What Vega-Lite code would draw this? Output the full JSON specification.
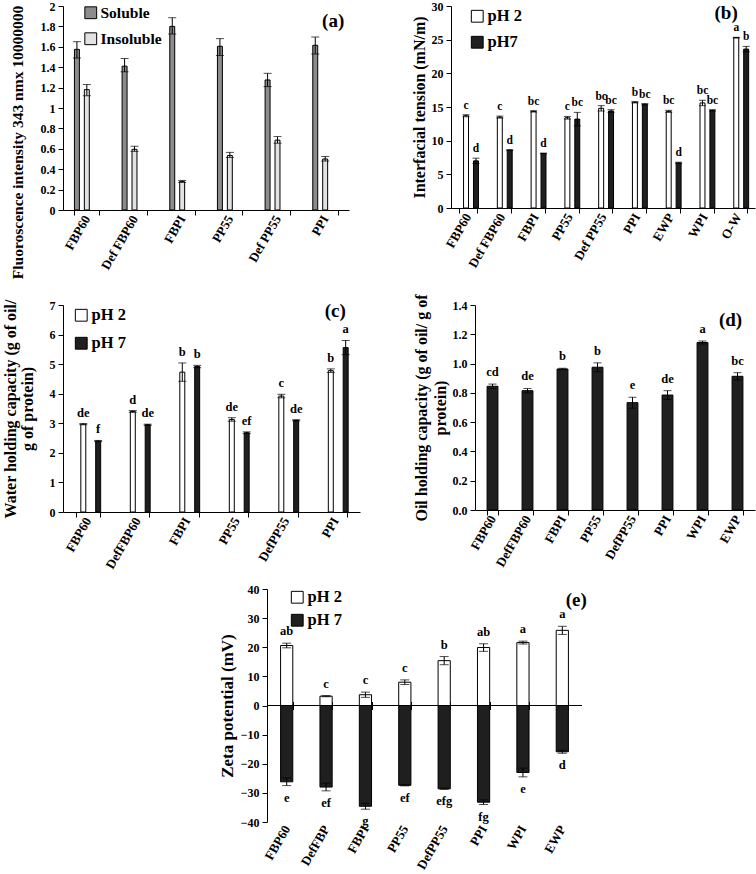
{
 "$schema": "https://vega.github.io/schema/vega-lite/v6.json",
 "padding": {"left": 2, "right": 2, "top": 0, "bottom": 0},
 "datasets": {
  "A": [
   {"c": "FBP60", "s": "Soluble", "v": 1.575, "lo": 1.49, "hi": 1.65},
   {"c": "FBP60", "s": "Insoluble", "v": 1.18, "lo": 1.12, "hi": 1.23},
   {"c": "Def FBP60", "s": "Soluble", "v": 1.41, "lo": 1.355, "hi": 1.485},
   {"c": "Def FBP60", "s": "Insoluble", "v": 0.595, "lo": 0.575, "hi": 0.625},
   {"c": "FBPI", "s": "Soluble", "v": 1.8, "lo": 1.725, "hi": 1.885},
   {"c": "FBPI", "s": "Insoluble", "v": 0.28, "lo": 0.27, "hi": 0.29},
   {"c": "PP55", "s": "Soluble", "v": 1.605, "lo": 1.515, "hi": 1.68},
   {"c": "PP55", "s": "Insoluble", "v": 0.535, "lo": 0.515, "hi": 0.565},
   {"c": "Def PP55", "s": "Soluble", "v": 1.275, "lo": 1.21, "hi": 1.34},
   {"c": "Def PP55", "s": "Insoluble", "v": 0.685, "lo": 0.655, "hi": 0.72},
   {"c": "PPI", "s": "Soluble", "v": 1.615, "lo": 1.53, "hi": 1.695},
   {"c": "PPI", "s": "Insoluble", "v": 0.5, "lo": 0.48, "hi": 0.525}
  ],
  "B": [
   {"c": "FBP60", "s": "pH 2", "v": 13.7, "lo": 13.55, "hi": 13.85, "l": "c"},
   {"c": "FBP60", "s": "pH7", "v": 7.0, "lo": 6.6, "hi": 7.4, "l": "d"},
   {"c": "Def FBP60", "s": "pH 2", "v": 13.5, "lo": 13.35, "hi": 13.65, "l": "c"},
   {"c": "Def FBP60", "s": "pH7", "v": 8.6, "lo": 8.55, "hi": 8.65, "l": "d"},
   {"c": "FBPI", "s": "pH 2", "v": 14.35, "lo": 14.25, "hi": 14.45, "l": "bc"},
   {"c": "FBPI", "s": "pH7", "v": 8.1, "lo": 8.05, "hi": 8.15, "l": "d"},
   {"c": "PP55", "s": "pH 2", "v": 13.4, "lo": 13.2, "hi": 13.6, "l": "c"},
   {"c": "PP55", "s": "pH7", "v": 13.2, "lo": 12.2, "hi": 14.2, "l": "bc"},
   {"c": "Def PP55", "s": "pH 2", "v": 14.8, "lo": 14.4, "hi": 15.2, "l": "bc"},
   {"c": "Def PP55", "s": "pH7", "v": 14.4, "lo": 14.2, "hi": 14.6, "l": "bc"},
   {"c": "PPI", "s": "pH 2", "v": 15.7, "lo": 15.6, "hi": 15.8, "l": "b"},
   {"c": "PPI", "s": "pH7", "v": 15.4, "lo": 15.3, "hi": 15.5, "l": "bc"},
   {"c": "EWP", "s": "pH 2", "v": 14.35, "lo": 14.2, "hi": 14.5, "l": "bc"},
   {"c": "EWP", "s": "pH7", "v": 6.7, "lo": 6.6, "hi": 6.8, "l": "d"},
   {"c": "WPI", "s": "pH 2", "v": 15.6, "lo": 15.2, "hi": 16.0, "l": "bc"},
   {"c": "WPI", "s": "pH7", "v": 14.5, "lo": 14.4, "hi": 14.6, "l": "bc"},
   {"c": "O-W", "s": "pH 2", "v": 25.3, "lo": 25.25, "hi": 25.35, "l": "a"},
   {"c": "O-W", "s": "pH7", "v": 23.6, "lo": 23.2, "hi": 24.0, "l": "b"}
  ],
  "C": [
   {"c": "FBP60", "s": "pH 2", "v": 2.97, "lo": 2.95, "hi": 2.99, "l": "de"},
   {"c": "FBP60", "s": "pH 7", "v": 2.4, "lo": 2.38, "hi": 2.42, "l": "f"},
   {"c": "DefFBP60", "s": "pH 2", "v": 3.4, "lo": 3.37, "hi": 3.43, "l": "d"},
   {"c": "DefFBP60", "s": "pH 7", "v": 2.95, "lo": 2.93, "hi": 2.97, "l": "de"},
   {"c": "FBPI", "s": "pH 2", "v": 4.73, "lo": 4.42, "hi": 5.04, "l": "b"},
   {"c": "FBPI", "s": "pH 7", "v": 4.92, "lo": 4.88, "hi": 4.96, "l": "b"},
   {"c": "PP55", "s": "pH 2", "v": 3.13, "lo": 3.07, "hi": 3.19, "l": "de"},
   {"c": "PP55", "s": "pH 7", "v": 2.68, "lo": 2.65, "hi": 2.71, "l": "ef"},
   {"c": "DefPP55", "s": "pH 2", "v": 3.92, "lo": 3.86, "hi": 3.98, "l": "c"},
   {"c": "DefPP55", "s": "pH 7", "v": 3.1, "lo": 3.08, "hi": 3.12, "l": "de"},
   {"c": "PPI", "s": "pH 2", "v": 4.78, "lo": 4.72, "hi": 4.84, "l": "b"},
   {"c": "PPI", "s": "pH 7", "v": 5.56, "lo": 5.32, "hi": 5.8, "l": "a"}
  ],
  "D": [
   {"c": "FBP60", "v": 0.845, "lo": 0.83, "hi": 0.86, "l": "cd"},
   {"c": "DefFBP60", "v": 0.815, "lo": 0.8, "hi": 0.83, "l": "de"},
   {"c": "FBPI", "v": 0.963, "lo": 0.958, "hi": 0.968, "l": "b"},
   {"c": "PP55", "v": 0.975, "lo": 0.945, "hi": 1.005, "l": "b"},
   {"c": "DefPP55", "v": 0.733, "lo": 0.695, "hi": 0.77, "l": "e"},
   {"c": "PPI", "v": 0.785, "lo": 0.755, "hi": 0.815, "l": "de"},
   {"c": "WPI", "v": 1.144, "lo": 1.134, "hi": 1.154, "l": "a"},
   {"c": "EWP", "v": 0.913, "lo": 0.888, "hi": 0.938, "l": "bc"}
  ],
  "E": [
   {"c": "FBP60", "s": "pH 2", "v": 20.6, "lo": 19.8, "hi": 21.4, "l": "ab"},
   {"c": "FBP60", "s": "pH 7", "v": -26.2, "lo": -27.5, "hi": -24.9, "l": "e"},
   {"c": "DefFBP", "s": "pH 2", "v": 3.2, "lo": 3.0, "hi": 3.4, "l": "c"},
   {"c": "DefFBP", "s": "pH 7", "v": -28.0, "lo": -29.3, "hi": -26.7, "l": "ef"},
   {"c": "FBPI", "s": "pH 2", "v": 3.7, "lo": 2.8, "hi": 4.6, "l": "c"},
   {"c": "FBPI", "s": "pH 7", "v": -34.6, "lo": -35.6, "hi": -33.6, "l": "g"},
   {"c": "PP55", "s": "pH 2", "v": 8.0, "lo": 7.2, "hi": 8.8, "l": "c"},
   {"c": "PP55", "s": "pH 7", "v": -27.4, "lo": -27.6, "hi": -27.2, "l": "ef"},
   {"c": "DefPP55", "s": "pH 2", "v": 15.4, "lo": 14.0, "hi": 16.8, "l": "b"},
   {"c": "DefPP55", "s": "pH 7", "v": -28.6, "lo": -28.8, "hi": -28.4, "l": "efg"},
   {"c": "PPI", "s": "pH 2", "v": 19.9, "lo": 18.6, "hi": 21.2, "l": "ab"},
   {"c": "PPI", "s": "pH 7", "v": -33.2, "lo": -34.0, "hi": -32.4, "l": "fg"},
   {"c": "WPI", "s": "pH 2", "v": 21.6, "lo": 21.1, "hi": 22.1, "l": "a"},
   {"c": "WPI", "s": "pH 7", "v": -23.0, "lo": -24.5, "hi": -21.5, "l": "e"},
   {"c": "EWP", "s": "pH 2", "v": 25.8, "lo": 24.4, "hi": 27.2, "l": "a"},
   {"c": "EWP", "s": "pH 7", "v": -15.9, "lo": -16.4, "hi": -15.4, "l": "d"}
  ]
 },
 "spacing": 12,
 "resolve": {"scale": {"fill": "independent"}, "legend": {"fill": "independent"}},
 "vconcat": [
  {
   "spacing": 14,
   "resolve": {"scale": {"fill": "independent"}, "legend": {"fill": "independent"}},
   "vconcat": [
    {
     "bounds": "flush",
     "spacing": 102,
     "resolve": {"scale": {"fill": "independent"}, "legend": {"fill": "independent"}},
     "hconcat": [
      {
       "width": 286, "height": 204,
       "data": {"name": "A"},
       "encoding": {
        "x": {"field": "c", "type": "nominal", "sort": ["FBP60", "Def FBP60", "FBPI", "PP55", "Def PP55", "PPI"], "scale": {"paddingInner": 0.48, "paddingOuter": 0.24}, "axis": {"title": null}}
       },
       "layer": [
        {
         "mark": {"type": "bar", "stroke": "black", "strokeWidth": 1},
         "encoding": {
          "xOffset": {"field": "s", "type": "nominal", "sort": ["Soluble", "Insoluble"]},
          "y": {"field": "v", "type": "quantitative", "scale": {"domain": [0, 2], "nice": false}, "axis": {"values": [0, 0.2, 0.4, 0.6, 0.8, 1, 1.2, 1.4, 1.6, 1.8, 2], "tickCount": 20, "labelOverlap": false, "format": ".1~f", "title": "Fluoroscence intensity 343 nmx 10000000", "titleFontSize": 15.5, "titlePadding": 15, "titleY": 136}},
          "fill": {"field": "s", "type": "nominal", "scale": {"domain": ["Soluble", "Insoluble"], "range": ["#8c8c8c", "#e2e2e2"]}, "legend": {"orient": "none", "legendX": 20, "legendY": -1, "rowPadding": 8, "labelFontSize": 15.5}}
         }
        },
        {"mark": {"type": "rule", "color": "black"}, "encoding": {"xOffset": {"field": "s", "type": "nominal", "sort": ["Soluble", "Insoluble"]}, "y": {"field": "lo", "type": "quantitative"}, "y2": {"field": "hi"}}},
        {"mark": {"type": "tick", "color": "black", "size": 8, "thickness": 1}, "encoding": {"xOffset": {"field": "s", "type": "nominal", "sort": ["Soluble", "Insoluble"]}, "y": {"field": "lo", "type": "quantitative"}}},
        {"mark": {"type": "tick", "color": "black", "size": 8, "thickness": 1}, "encoding": {"xOffset": {"field": "s", "type": "nominal", "sort": ["Soluble", "Insoluble"]}, "y": {"field": "hi", "type": "quantitative"}}},
        {"data": {"values": [{"t": "(a)"}]}, "mark": {"type": "text", "fontSize": 19, "dx": 8}, "encoding": {"x": {"datum": "PPI"}, "y": {"datum": 1.85}, "text": {"field": "t"}}}
       ]
      },
      {
       "width": 304, "height": 202,
       "data": {"name": "B"},
       "encoding": {
        "x": {"field": "c", "type": "nominal", "sort": ["FBP60", "Def FBP60", "FBPI", "PP55", "Def PP55", "PPI", "EWP", "WPI", "O-W"], "scale": {"paddingInner": 0.45, "paddingOuter": 0.225}, "axis": {"title": null}}
       },
       "layer": [
        {
         "mark": {"type": "bar", "stroke": "black", "strokeWidth": 1},
         "encoding": {
          "xOffset": {"field": "s", "type": "nominal", "sort": ["pH 2", "pH7"]},
          "y": {"field": "v", "type": "quantitative", "scale": {"domain": [0, 30], "nice": false}, "axis": {"values": [0, 5, 10, 15, 20, 25, 30], "tickCount": 20, "format": "d", "labelOverlap": false, "title": "Interfacial tension (mN/m)"}},
          "fill": {"field": "s", "type": "nominal", "scale": {"domain": ["pH 2", "pH7"], "range": ["white", "#1f1f1f"]}, "legend": {"orient": "none", "legendX": 18, "legendY": 2, "rowPadding": 9}}
         }
        },
        {"mark": {"type": "rule", "color": "black"}, "encoding": {"xOffset": {"field": "s", "type": "nominal", "sort": ["pH 2", "pH7"]}, "y": {"field": "lo", "type": "quantitative"}, "y2": {"field": "hi"}}},
        {"mark": {"type": "tick", "color": "black", "size": 7, "thickness": 1}, "encoding": {"xOffset": {"field": "s", "type": "nominal", "sort": ["pH 2", "pH7"]}, "y": {"field": "lo", "type": "quantitative"}}},
        {"mark": {"type": "tick", "color": "black", "size": 7, "thickness": 1}, "encoding": {"xOffset": {"field": "s", "type": "nominal", "sort": ["pH 2", "pH7"]}, "y": {"field": "hi", "type": "quantitative"}}},
        {"mark": {"type": "text", "baseline": "alphabetic", "dy": -6, "fontSize": 11.5}, "encoding": {"xOffset": {"field": "s", "type": "nominal", "sort": ["pH 2", "pH7"]}, "y": {"field": "hi", "type": "quantitative"}, "text": {"field": "l"}}},
        {"data": {"values": [{"t": "(b)"}]}, "mark": {"type": "text", "fontSize": 19, "dx": -12}, "encoding": {"x": {"datum": "O-W"}, "y": {"datum": 29}, "text": {"field": "t"}}}
       ]
      }
     ]
    },
    {
     "bounds": "flush",
     "spacing": 115,
     "resolve": {"scale": {"fill": "independent"}, "legend": {"fill": "independent"}},
     "hconcat": [
      {
       "width": 297, "height": 207,
       "data": {"name": "C"},
       "encoding": {
        "x": {"field": "c", "type": "nominal", "sort": ["FBP60", "DefFBP60", "FBPI", "PP55", "DefPP55", "PPI"], "scale": {"paddingInner": 0.52, "paddingOuter": 0.26}, "axis": {"title": null}}
       },
       "layer": [
        {
         "mark": {"type": "bar", "stroke": "black", "strokeWidth": 1},
         "encoding": {
          "xOffset": {"field": "s", "type": "nominal", "sort": ["pH 2", "pH 7"]},
          "y": {"field": "v", "type": "quantitative", "scale": {"domain": [0, 7], "nice": false}, "axis": {"values": [0, 1, 2, 3, 4, 5, 6, 7], "tickCount": 20, "format": "d", "labelOverlap": false, "title": ["Water holding capacity (g of oil/", "g of protein)"], "titleLineHeight": 17, "titlePadding": 14}},
          "fill": {"field": "s", "type": "nominal", "scale": {"domain": ["pH 2", "pH 7"], "range": ["white", "#1f1f1f"]}, "legend": {"orient": "none", "legendX": 10, "legendY": 2, "rowPadding": 11}}
         }
        },
        {"mark": {"type": "rule", "color": "black"}, "encoding": {"xOffset": {"field": "s", "type": "nominal", "sort": ["pH 2", "pH 7"]}, "y": {"field": "lo", "type": "quantitative"}, "y2": {"field": "hi"}}},
        {"mark": {"type": "tick", "color": "black", "size": 8, "thickness": 1}, "encoding": {"xOffset": {"field": "s", "type": "nominal", "sort": ["pH 2", "pH 7"]}, "y": {"field": "lo", "type": "quantitative"}}},
        {"mark": {"type": "tick", "color": "black", "size": 8, "thickness": 1}, "encoding": {"xOffset": {"field": "s", "type": "nominal", "sort": ["pH 2", "pH 7"]}, "y": {"field": "hi", "type": "quantitative"}}},
        {"mark": {"type": "text", "baseline": "alphabetic", "dy": -7, "fontSize": 12.5}, "encoding": {"xOffset": {"field": "s", "type": "nominal", "sort": ["pH 2", "pH 7"]}, "y": {"field": "hi", "type": "quantitative"}, "text": {"field": "l"}}},
        {"data": {"values": [{"t": "(c)"}]}, "mark": {"type": "text", "fontSize": 19, "dx": 0}, "encoding": {"x": {"datum": "PPI"}, "y": {"datum": 6.8}, "text": {"field": "t"}}}
       ]
      },
      {
       "width": 280, "height": 205,
       "data": {"name": "D"},
       "encoding": {
        "x": {"field": "c", "type": "nominal", "sort": ["FBP60", "DefFBP60", "FBPI", "PP55", "DefPP55", "PPI", "WPI", "EWP"], "scale": {"paddingInner": 0.69, "paddingOuter": 0.345}, "axis": {"title": null}}
       },
       "layer": [
        {
         "mark": {"type": "bar", "stroke": "black", "strokeWidth": 1, "fill": "#1f1f1f"},
         "encoding": {
          "y": {"field": "v", "type": "quantitative", "scale": {"domain": [0, 1.4], "nice": false}, "axis": {"values": [0, 0.2, 0.4, 0.6, 0.8, 1.0, 1.2, 1.4], "tickCount": 20, "labelOverlap": false, "format": ".1f", "title": ["Oil holding capacity (g of oil/ g of", "protein)"], "titleLineHeight": 19}}
         }
        },
        {"mark": {"type": "rule", "color": "black"}, "encoding": {"y": {"field": "lo", "type": "quantitative"}, "y2": {"field": "hi"}}},
        {"mark": {"type": "tick", "color": "black", "size": 8, "thickness": 1}, "encoding": {"y": {"field": "lo", "type": "quantitative"}}},
        {"mark": {"type": "tick", "color": "black", "size": 8, "thickness": 1}, "encoding": {"y": {"field": "hi", "type": "quantitative"}}},
        {"mark": {"type": "text", "baseline": "alphabetic", "dy": -8, "fontSize": 12.5}, "encoding": {"y": {"field": "hi", "type": "quantitative"}, "text": {"field": "l"}}},
        {"data": {"values": [{"t": "(d)"}]}, "mark": {"type": "text", "fontSize": 19, "dx": -7}, "encoding": {"x": {"datum": "EWP"}, "y": {"datum": 1.3}, "text": {"field": "t"}}}
       ]
      }
     ]
    }
   ]
  },
  {
   "bounds": "flush",
   "spacing": 203,
   "resolve": {"scale": {"fill": "independent"}, "legend": {"fill": "independent"}},
   "hconcat": [
    {
     "width": 1, "height": 1,
     "data": {"values": [{"t": ""}]},
     "mark": {"type": "text"},
     "encoding": {"text": {"field": "t"}}
    },
    {
     "width": 315, "height": 233,
     "data": {"name": "E"},
     "resolve": {"axis": {"x": "independent"}},
     "layer": [
      {
       "mark": {"type": "bar", "stroke": "black", "strokeWidth": 1},
       "encoding": {
        "x": {"field": "c", "type": "nominal", "sort": ["FBP60", "DefFBP", "FBPI", "PP55", "DefPP55", "PPI", "WPI", "EWP"], "scale": {"paddingInner": 0.69, "paddingOuter": 0.345}, "axis": {"title": null, "orient": "bottom", "domain": false, "ticks": false, "labelPadding": 4}},
        "y": {"field": "v", "type": "quantitative", "scale": {"domain": [-40, 40], "nice": false}, "axis": {"values": [-40, -30, -20, -10, 0, 10, 20, 30, 40], "tickCount": 20, "format": "d", "labelOverlap": false, "title": "Zeta potential (mV)", "titleFontSize": 17}},
        "fill": {"field": "s", "type": "nominal", "scale": {"domain": ["pH 2", "pH 7"], "range": ["white", "#1f1f1f"]}, "legend": {"orient": "none", "legendX": 22, "legendY": 0, "rowPadding": 6}}
       }
      },
      {"mark": {"type": "rule", "color": "black"}, "encoding": {"y": {"datum": 0}}},
      {"mark": {"type": "rule", "color": "black"}, "encoding": {"x": {"field": "c", "type": "nominal", "sort": ["FBP60", "DefFBP", "FBPI", "PP55", "DefPP55", "PPI", "WPI", "EWP"], "axis": null}, "y": {"field": "lo", "type": "quantitative"}, "y2": {"field": "hi"}}},
      {"mark": {"type": "tick", "color": "black", "size": 9, "thickness": 1}, "encoding": {"x": {"field": "c", "type": "nominal", "sort": ["FBP60", "DefFBP", "FBPI", "PP55", "DefPP55", "PPI", "WPI", "EWP"], "axis": null}, "y": {"field": "lo", "type": "quantitative"}}},
      {"mark": {"type": "tick", "color": "black", "size": 9, "thickness": 1}, "encoding": {"x": {"field": "c", "type": "nominal", "sort": ["FBP60", "DefFBP", "FBPI", "PP55", "DefPP55", "PPI", "WPI", "EWP"], "axis": null}, "y": {"field": "hi", "type": "quantitative"}}},
      {"transform": [{"filter": "datum.s === 'pH 2'"}], "mark": {"type": "text", "baseline": "alphabetic", "dy": -8, "fontSize": 12.5}, "encoding": {"x": {"field": "c", "type": "nominal", "sort": ["FBP60", "DefFBP", "FBPI", "PP55", "DefPP55", "PPI", "WPI", "EWP"], "axis": null}, "y": {"field": "hi", "type": "quantitative"}, "text": {"field": "l"}}},
      {"transform": [{"filter": "datum.s === 'pH 7'"}], "mark": {"type": "text", "baseline": "middle", "dy": 12, "fontSize": 12.5}, "encoding": {"x": {"field": "c", "type": "nominal", "sort": ["FBP60", "DefFBP", "FBPI", "PP55", "DefPP55", "PPI", "WPI", "EWP"], "axis": null}, "y": {"field": "lo", "type": "quantitative"}, "text": {"field": "l"}}},
      {"data": {"values": [{"t": "(e)"}]}, "mark": {"type": "text", "fontSize": 19, "dx": 14}, "encoding": {"x": {"datum": "EWP", "type": "nominal", "axis": null}, "y": {"datum": 36.3}, "text": {"field": "t"}}},
      {"mark": {"type": "point", "opacity": 0}, "encoding": {"x": {"field": "c", "type": "nominal", "sort": ["FBP60", "DefFBP", "FBPI", "PP55", "DefPP55", "PPI", "WPI", "EWP"], "axis": {"title": null, "orient": "top", "offset": -116.5, "labels": false, "domain": false, "tickSize": 4}}, "y": {"datum": 0}}},
      {"mark": {"type": "point", "opacity": 0}, "encoding": {"x": {"field": "c", "type": "nominal", "sort": ["FBP60", "DefFBP", "FBPI", "PP55", "DefPP55", "PPI", "WPI", "EWP"], "axis": {"title": null, "orient": "bottom", "offset": -116.5, "labels": false, "domain": false, "tickSize": 4}}, "y": {"datum": 0}}}
     ]
    }
   ]
  }
 ],
 "config": {
  "font": "Liberation Serif",
  "view": {"stroke": null},
  "axis": {"grid": false, "domainColor": "black", "tickColor": "black", "labelColor": "black", "titleColor": "black", "labelFontWeight": "bold", "titleFontWeight": "bold", "labelFontSize": 12, "titleFontSize": 16, "tickSize": 5, "domainWidth": 1, "tickWidth": 1, "labelOverlap": false},
  "axisX": {"labelAngle": -60, "tickBand": "extent", "labelFontSize": 13, "labelPadding": 1},
  "axisY": {"labelPadding": 3},
  "legend": {"title": null, "symbolType": "square", "symbolSize": 140, "symbolStrokeColor": "black", "symbolStrokeWidth": 1, "labelFontSize": 16.5, "labelFontWeight": "bold", "labelColor": "black", "labelOffset": 2},
  "text": {"fontWeight": "bold", "fontSize": 12, "color": "black"}
 }
}
